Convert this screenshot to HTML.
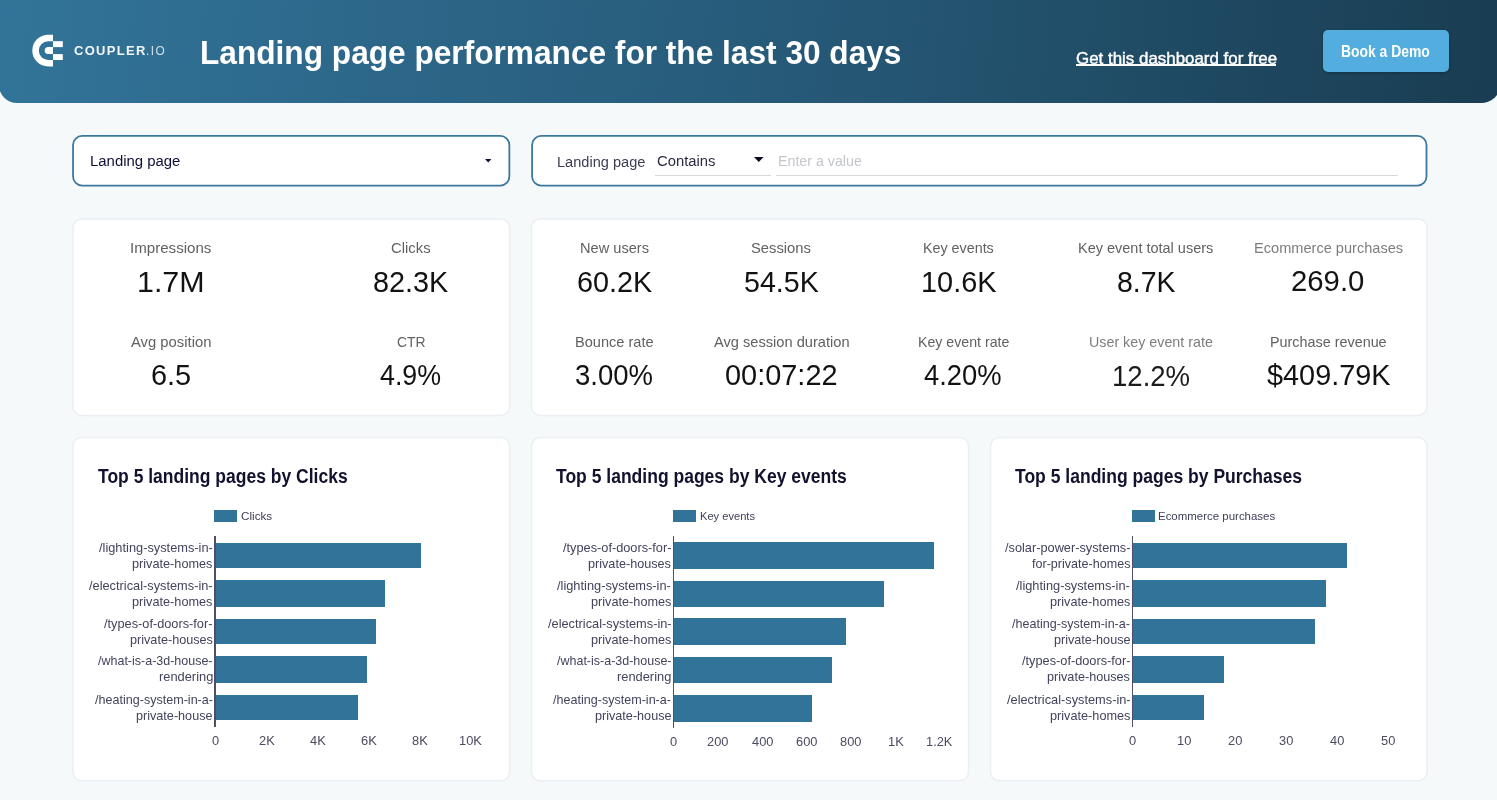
<!DOCTYPE html>
<html><head><meta charset="utf-8"><title>Landing page performance</title>
<style>
html,body{margin:0;padding:0}
body{width:1497px;height:800px;overflow:hidden;position:relative;background:#f6f9fa;font-family:"Liberation Sans", sans-serif;}
.t{position:absolute;white-space:nowrap;line-height:1;transform-origin:0 0;}
.tl{position:absolute;left:0;top:0;width:1497px;height:800px;will-change:transform;}
.r{position:absolute}
.hdr{position:absolute;left:-1px;top:-4px;width:1502px;height:106.7px;border-radius:0 0 20px 18px;background:linear-gradient(96deg,#327499 0%,#275b7a 50%,#193d52 100%);}
.card{position:absolute;background:#fff;border:1.5px solid #edf0f3;border-radius:11px;box-sizing:border-box}
.fbox{position:absolute;background:#fff;border:2px solid #3a759c;border-radius:10px;box-sizing:border-box}
.btn{position:absolute;left:1323.2px;top:30.2px;width:125.6px;height:41.9px;border-radius:5px;background:#53addf;box-shadow:0 1px 3px rgba(0,0,0,.25)}
</style></head><body>
<div class="hdr"></div>
<svg style="position:absolute;left:0;top:0" width="200" height="103" viewBox="0 0 200 103">
<g fill="#fff">
<path d="M53,34.7 H48.2 A15.9,15.9 0 0 0 48.2,66.5 H53 V60 H48.2 A9.4,9.4 0 0 1 48.2,41.2 H53 Z"/>
<path d="M53,47.1 H48.2 A3.5,3.5 0 0 0 48.2,54.1 H53 Z"/>
<rect x="53" y="41.2" width="9.8" height="5.9"/>
<rect x="53" y="54.1" width="9.8" height="5.9"/>
</g></svg>
<div class="r" style="left:1076.4px;top:64.4px;width:199.4px;height:1.6px;background:#fbfcfd"></div>
<div class="btn"></div>
<svg style="position:absolute;left:0;top:0" width="1497" height="800" viewBox="0 0 1497 800"><rect x="73.05" y="135.90" width="436.30" height="49.70" rx="9.10" fill="#fff" stroke="#3c789e" stroke-width="1.8"/><rect x="532.10" y="135.90" width="894.40" height="49.70" rx="9.10" fill="#fff" stroke="#3c789e" stroke-width="1.8"/><rect x="73.00" y="219.00" width="436.65" height="196.40" rx="8.75" fill="#fff" stroke="#ebeef2" stroke-width="1.5"/><rect x="531.45" y="219.00" width="895.55" height="196.40" rx="8.75" fill="#fff" stroke="#ebeef2" stroke-width="1.5"/><rect x="73.00" y="437.45" width="436.65" height="343.40" rx="8.75" fill="#fff" stroke="#ebeef2" stroke-width="1.5"/><rect x="531.45" y="437.45" width="437.05" height="343.40" rx="8.75" fill="#fff" stroke="#ebeef2" stroke-width="1.5"/><rect x="990.55" y="437.45" width="436.45" height="343.40" rx="8.75" fill="#fff" stroke="#ebeef2" stroke-width="1.5"/></svg>
<svg style="position:absolute;left:484.6px;top:158.7px" width="7" height="4" viewBox="0 0 7 4"><path d="M0,0H6.4L3.2,3.4Z" fill="#111130"/></svg>
<svg style="position:absolute;left:753.5px;top:157.1px" width="10" height="6" viewBox="0 0 10 6"><path d="M0,0H9.6L4.8,5Z" fill="#0b0b26"/></svg>
<div class="r" style="left:655.2px;top:174.7px;width:115.8px;height:1.2px;background:#d6dade"></div>
<div class="r" style="left:776.2px;top:174.7px;width:622.2px;height:1.2px;background:#d6dade"></div>
<div class="r" style="left:214.30px;top:510.00px;width:23.00px;height:11.50px;background:#32739a"></div><div class="r" style="left:215.50px;top:542.50px;width:205.50px;height:25.90px;background:#32739a"></div><div class="r" style="left:215.50px;top:580.30px;width:169.00px;height:26.60px;background:#32739a"></div><div class="r" style="left:215.50px;top:618.50px;width:160.75px;height:25.80px;background:#32739a"></div><div class="r" style="left:215.50px;top:656.10px;width:151.25px;height:26.70px;background:#32739a"></div><div class="r" style="left:215.50px;top:694.60px;width:142.75px;height:25.70px;background:#32739a"></div><div class="r" style="left:214.30px;top:536.20px;width:1.50px;height:190.40px;background:#4e4e6c"></div><div class="r" style="left:672.90px;top:510.00px;width:23.00px;height:11.50px;background:#32739a"></div><div class="r" style="left:674.10px;top:542.10px;width:259.90px;height:27.10px;background:#32739a"></div><div class="r" style="left:674.10px;top:581.15px;width:209.90px;height:25.65px;background:#32739a"></div><div class="r" style="left:674.10px;top:618.35px;width:172.40px;height:27.15px;background:#32739a"></div><div class="r" style="left:674.10px;top:656.90px;width:157.65px;height:26.00px;background:#32739a"></div><div class="r" style="left:674.10px;top:694.80px;width:137.90px;height:26.80px;background:#32739a"></div><div class="r" style="left:672.90px;top:536.20px;width:1.50px;height:191.40px;background:#4e4e6c"></div><div class="r" style="left:1131.80px;top:510.00px;width:23.00px;height:11.50px;background:#32739a"></div><div class="r" style="left:1132.90px;top:542.50px;width:214.10px;height:25.90px;background:#32739a"></div><div class="r" style="left:1132.90px;top:580.30px;width:192.85px;height:26.60px;background:#32739a"></div><div class="r" style="left:1132.90px;top:618.50px;width:182.60px;height:25.80px;background:#32739a"></div><div class="r" style="left:1132.90px;top:656.10px;width:90.85px;height:26.70px;background:#32739a"></div><div class="r" style="left:1132.90px;top:694.60px;width:70.85px;height:25.70px;background:#32739a"></div><div class="r" style="left:1131.80px;top:536.20px;width:1.40px;height:190.40px;background:#4e4e6c"></div>
<div class="tl"><span class="t" style="left:200.47px;top:36px;font-size:33px;font-weight:700;color:#ffffff;transform:scaleX(0.9587);">Landing page performance for the last 30 days</span><span class="t" style="left:1075.56px;top:50px;font-size:16.2px;font-weight:400;color:#ffffff;transform:scaleX(1.0447);-webkit-text-stroke:0.4px #fff;">Get this dashboard for free</span><span class="t" style="left:1341.05px;top:43px;font-size:16.3px;font-weight:700;color:#ffffff;transform:scaleX(0.8540);">Book a Demo</span><span class="t" style="left:74.03px;top:45px;font-size:12.8px;font-weight:700;color:#f4f7f9;transform:scaleX(1.0131);letter-spacing:1.3px;">COUPLER</span><span class="t" style="left:145.98px;top:45px;font-size:12.8px;font-weight:400;color:#d3e0e8;transform:scaleX(0.9249);letter-spacing:1.6px;">.IO</span><span class="t" style="left:89.77px;top:154px;font-size:14.7px;font-weight:400;color:#0f0f38;transform:scaleX(1.0152);">Landing page</span><span class="t" style="left:556.88px;top:154px;font-size:15.2px;font-weight:400;color:#3d3d55;transform:scaleX(0.9600);">Landing page</span><span class="t" style="left:656.93px;top:153px;font-size:15.2px;font-weight:400;color:#2a2a44;transform:scaleX(0.9739);">Contains</span><span class="t" style="left:777.90px;top:153px;font-size:15.2px;font-weight:400;color:#c3c6cc;transform:scaleX(0.9371);">Enter a value</span><span class="t" style="left:130.14px;top:240px;font-size:15.35px;font-weight:400;color:#606162;transform:scaleX(0.9837);">Impressions</span><span class="t" style="left:137.19px;top:268px;font-size:29px;font-weight:400;color:#121212;transform:scaleX(1.0485);">1.7M</span><span class="t" style="left:390.93px;top:240px;font-size:15.35px;font-weight:400;color:#606162;transform:scaleX(0.9666);">Clicks</span><span class="t" style="left:373.22px;top:268px;font-size:29px;font-weight:400;color:#121212;transform:scaleX(0.9930);">82.3K</span><span class="t" style="left:131.34px;top:334px;font-size:15.35px;font-weight:400;color:#606162;transform:scaleX(0.9649);">Avg position</span><span class="t" style="left:151.13px;top:361px;font-size:29px;font-weight:400;color:#121212;transform:scaleX(0.9967);">6.5</span><span class="t" style="left:396.60px;top:334px;font-size:15.35px;font-weight:400;color:#606162;transform:scaleX(0.9046);">CTR</span><span class="t" style="left:380.16px;top:361px;font-size:29px;font-weight:400;color:#121212;transform:scaleX(0.9237);">4.9%</span><span class="t" style="left:579.57px;top:240px;font-size:15.35px;font-weight:400;color:#606162;transform:scaleX(0.9518);">New users</span><span class="t" style="left:576.73px;top:268px;font-size:29px;font-weight:400;color:#121212;transform:scaleX(0.9929);">60.2K</span><span class="t" style="left:750.79px;top:240px;font-size:15.35px;font-weight:400;color:#606162;transform:scaleX(0.9625);">Sessions</span><span class="t" style="left:744.12px;top:268px;font-size:29px;font-weight:400;color:#121212;transform:scaleX(0.9864);">54.5K</span><span class="t" style="left:922.69px;top:240px;font-size:15.35px;font-weight:400;color:#606162;transform:scaleX(0.9323);">Key events</span><span class="t" style="left:920.60px;top:268px;font-size:29px;font-weight:400;color:#121212;transform:scaleX(0.9960);">10.6K</span><span class="t" style="left:1077.88px;top:240px;font-size:15.35px;font-weight:400;color:#606162;transform:scaleX(0.9440);">Key event total users</span><span class="t" style="left:1116.74px;top:268px;font-size:29px;font-weight:400;color:#121212;transform:scaleX(0.9824);">8.7K</span><span class="t" style="left:1253.62px;top:240px;font-size:15.35px;font-weight:400;color:#7c7d7e;transform:scaleX(0.9506);">Ecommerce purchases</span><span class="t" style="left:1291.37px;top:267px;font-size:29px;font-weight:400;color:#121212;transform:scaleX(1.0105);">269.0</span><span class="t" style="left:574.87px;top:334px;font-size:15.35px;font-weight:400;color:#606162;transform:scaleX(0.9498);">Bounce rate</span><span class="t" style="left:575.03px;top:361px;font-size:29px;font-weight:400;color:#121212;transform:scaleX(0.9475);">3.00%</span><span class="t" style="left:713.54px;top:334px;font-size:15.35px;font-weight:400;color:#606162;transform:scaleX(0.9534);">Avg session duration</span><span class="t" style="left:725.10px;top:361px;font-size:29px;font-weight:400;color:#121212;transform:scaleX(0.9970);">00:07:22</span><span class="t" style="left:917.50px;top:334px;font-size:15.35px;font-weight:400;color:#606162;transform:scaleX(0.9239);">Key event rate</span><span class="t" style="left:924.25px;top:361px;font-size:29px;font-weight:400;color:#121212;transform:scaleX(0.9431);">4.20%</span><span class="t" style="left:1089.17px;top:334px;font-size:15.35px;font-weight:400;color:#7c7d7e;transform:scaleX(0.9308);">User key event rate</span><span class="t" style="left:1111.69px;top:362px;font-size:29px;font-weight:400;color:#1c1c1c;transform:scaleX(0.9499);">12.2%</span><span class="t" style="left:1270.08px;top:334px;font-size:15.35px;font-weight:400;color:#606162;transform:scaleX(0.9364);">Purchase revenue</span><span class="t" style="left:1267.03px;top:361px;font-size:29px;font-weight:400;color:#121212;transform:scaleX(0.9948);">$409.79K</span><span class="t" style="left:97.87px;top:466px;font-size:20px;font-weight:700;color:#12122e;transform:scaleX(0.8752);">Top 5 landing pages by Clicks</span><span class="t" style="left:555.97px;top:466px;font-size:20px;font-weight:700;color:#12122e;transform:scaleX(0.8762);">Top 5 landing pages by Key events</span><span class="t" style="left:1015.07px;top:466px;font-size:20px;font-weight:700;color:#12122e;transform:scaleX(0.8766);">Top 5 landing pages by Purchases</span><span class="t" style="left:241.17px;top:511px;font-size:11.5px;font-weight:400;color:#404059;transform:scaleX(1.0168);">Clicks</span><span class="t" style="left:211.88px;top:734px;font-size:13.6px;font-weight:400;color:#4b4b62;transform:scaleX(0.9450);">0</span><span class="t" style="left:258.64px;top:734px;font-size:13.6px;font-weight:400;color:#4b4b62;transform:scaleX(0.9450);">2K</span><span class="t" style="left:309.97px;top:734px;font-size:13.6px;font-weight:400;color:#4b4b62;transform:scaleX(0.9450);">4K</span><span class="t" style="left:360.83px;top:734px;font-size:13.6px;font-weight:400;color:#4b4b62;transform:scaleX(0.9450);">6K</span><span class="t" style="left:411.58px;top:734px;font-size:13.6px;font-weight:400;color:#4b4b62;transform:scaleX(0.9450);">8K</span><span class="t" style="left:459.28px;top:734px;font-size:13.6px;font-weight:400;color:#4b4b62;transform:scaleX(0.9450);">10K</span><span class="t" style="left:98.80px;top:541px;font-size:13.3px;font-weight:400;color:#43435d;transform:scaleX(0.9628);">/lighting-systems-in-</span><span class="t" style="left:132.14px;top:557px;font-size:13.3px;font-weight:400;color:#43435d;transform:scaleX(0.9550);">private-homes</span><span class="t" style="left:89.00px;top:579px;font-size:13.3px;font-weight:400;color:#43435d;transform:scaleX(0.9617);">/electrical-systems-in-</span><span class="t" style="left:132.14px;top:595px;font-size:13.3px;font-weight:400;color:#43435d;transform:scaleX(0.9550);">private-homes</span><span class="t" style="left:104.00px;top:617px;font-size:13.3px;font-weight:400;color:#43435d;transform:scaleX(0.9594);">/types-of-doors-for-</span><span class="t" style="left:129.65px;top:633px;font-size:13.3px;font-weight:400;color:#43435d;transform:scaleX(0.9508);">private-houses</span><span class="t" style="left:98.10px;top:654px;font-size:13.3px;font-weight:400;color:#43435d;transform:scaleX(0.9391);">/what-is-a-3d-house-</span><span class="t" style="left:158.63px;top:670px;font-size:13.3px;font-weight:400;color:#43435d;transform:scaleX(0.9664);">rendering</span><span class="t" style="left:94.60px;top:693px;font-size:13.3px;font-weight:400;color:#43435d;transform:scaleX(0.9446);">/heating-system-in-a-</span><span class="t" style="left:136.15px;top:709px;font-size:13.3px;font-weight:400;color:#43435d;transform:scaleX(0.9494);">private-house</span><span class="t" style="left:699.63px;top:511px;font-size:11.5px;font-weight:400;color:#404059;transform:scaleX(0.9671);">Key events</span><span class="t" style="left:670.08px;top:735px;font-size:13.6px;font-weight:400;color:#4b4b62;transform:scaleX(0.9450);">0</span><span class="t" style="left:707.41px;top:735px;font-size:13.6px;font-weight:400;color:#4b4b62;transform:scaleX(0.9450);">200</span><span class="t" style="left:752.14px;top:735px;font-size:13.6px;font-weight:400;color:#4b4b62;transform:scaleX(0.9450);">400</span><span class="t" style="left:796.20px;top:735px;font-size:13.6px;font-weight:400;color:#4b4b62;transform:scaleX(0.9450);">600</span><span class="t" style="left:840.34px;top:735px;font-size:13.6px;font-weight:400;color:#4b4b62;transform:scaleX(0.9450);">800</span><span class="t" style="left:887.87px;top:735px;font-size:13.6px;font-weight:400;color:#4b4b62;transform:scaleX(0.9450);">1K</span><span class="t" style="left:926.49px;top:735px;font-size:13.6px;font-weight:400;color:#4b4b62;transform:scaleX(0.9450);">1.2K</span><span class="t" style="left:562.50px;top:541px;font-size:13.3px;font-weight:400;color:#43435d;transform:scaleX(0.9594);">/types-of-doors-for-</span><span class="t" style="left:588.15px;top:557px;font-size:13.3px;font-weight:400;color:#43435d;transform:scaleX(0.9508);">private-houses</span><span class="t" style="left:557.30px;top:579px;font-size:13.3px;font-weight:400;color:#43435d;transform:scaleX(0.9628);">/lighting-systems-in-</span><span class="t" style="left:590.64px;top:595px;font-size:13.3px;font-weight:400;color:#43435d;transform:scaleX(0.9550);">private-homes</span><span class="t" style="left:547.50px;top:617px;font-size:13.3px;font-weight:400;color:#43435d;transform:scaleX(0.9617);">/electrical-systems-in-</span><span class="t" style="left:590.64px;top:633px;font-size:13.3px;font-weight:400;color:#43435d;transform:scaleX(0.9550);">private-homes</span><span class="t" style="left:556.60px;top:654px;font-size:13.3px;font-weight:400;color:#43435d;transform:scaleX(0.9391);">/what-is-a-3d-house-</span><span class="t" style="left:617.13px;top:670px;font-size:13.3px;font-weight:400;color:#43435d;transform:scaleX(0.9664);">rendering</span><span class="t" style="left:553.10px;top:693px;font-size:13.3px;font-weight:400;color:#43435d;transform:scaleX(0.9446);">/heating-system-in-a-</span><span class="t" style="left:594.65px;top:709px;font-size:13.3px;font-weight:400;color:#43435d;transform:scaleX(0.9494);">private-house</span><span class="t" style="left:1158.40px;top:511px;font-size:11.5px;font-weight:400;color:#404059;transform:scaleX(0.9966);">Ecommerce purchases</span><span class="t" style="left:1129.08px;top:734px;font-size:13.6px;font-weight:400;color:#4b4b62;transform:scaleX(0.9450);">0</span><span class="t" style="left:1176.72px;top:734px;font-size:13.6px;font-weight:400;color:#4b4b62;transform:scaleX(0.9450);">10</span><span class="t" style="left:1227.59px;top:734px;font-size:13.6px;font-weight:400;color:#4b4b62;transform:scaleX(0.9450);">20</span><span class="t" style="left:1278.65px;top:734px;font-size:13.6px;font-weight:400;color:#4b4b62;transform:scaleX(0.9450);">30</span><span class="t" style="left:1330.02px;top:734px;font-size:13.6px;font-weight:400;color:#4b4b62;transform:scaleX(0.9450);">40</span><span class="t" style="left:1380.72px;top:734px;font-size:13.6px;font-weight:400;color:#4b4b62;transform:scaleX(0.9450);">50</span><span class="t" style="left:1004.85px;top:541px;font-size:13.3px;font-weight:400;color:#43435d;transform:scaleX(0.9596);">/solar-power-systems-</span><span class="t" style="left:1031.62px;top:557px;font-size:13.3px;font-weight:400;color:#43435d;transform:scaleX(0.9446);">for-private-homes</span><span class="t" style="left:1016.30px;top:579px;font-size:13.3px;font-weight:400;color:#43435d;transform:scaleX(0.9628);">/lighting-systems-in-</span><span class="t" style="left:1049.64px;top:595px;font-size:13.3px;font-weight:400;color:#43435d;transform:scaleX(0.9550);">private-homes</span><span class="t" style="left:1012.10px;top:617px;font-size:13.3px;font-weight:400;color:#43435d;transform:scaleX(0.9446);">/heating-system-in-a-</span><span class="t" style="left:1053.65px;top:633px;font-size:13.3px;font-weight:400;color:#43435d;transform:scaleX(0.9494);">private-house</span><span class="t" style="left:1021.50px;top:654px;font-size:13.3px;font-weight:400;color:#43435d;transform:scaleX(0.9594);">/types-of-doors-for-</span><span class="t" style="left:1047.15px;top:670px;font-size:13.3px;font-weight:400;color:#43435d;transform:scaleX(0.9508);">private-houses</span><span class="t" style="left:1006.50px;top:693px;font-size:13.3px;font-weight:400;color:#43435d;transform:scaleX(0.9617);">/electrical-systems-in-</span><span class="t" style="left:1049.64px;top:709px;font-size:13.3px;font-weight:400;color:#43435d;transform:scaleX(0.9550);">private-homes</span></div>
</body></html>
